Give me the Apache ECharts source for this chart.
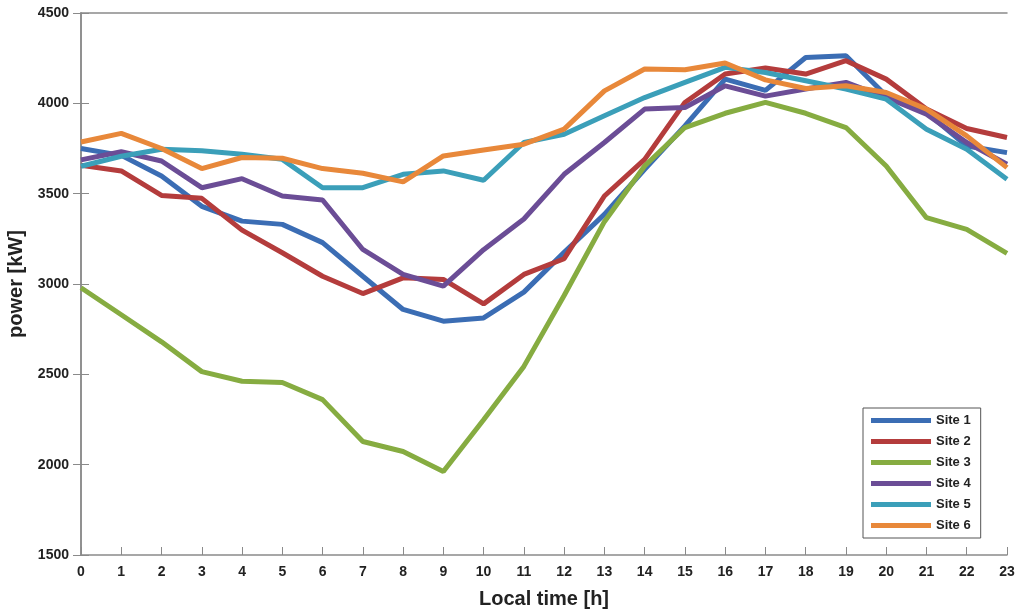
<!DOCTYPE html>
<html>
<head>
<meta charset="utf-8">
<script src="https://cdn.jsdelivr.net/npm/echarts@6/dist/echarts.min.js"></script>
<style>
  html, body { margin: 0; padding: 0; background: #fff; }
  #chart { width: 1017px; height: 611px; }
</style>
</head>
<body>
<div id="chart"></div>
<script>
// hours of the day
const hours = [0, 1, 2, 3, 4, 5, 6, 7, 8, 9, 10, 11, 12, 13, 14, 15, 16, 17, 18, 19, 20, 21, 22, 23];

// power per site [kW]
const site1 = [3750, 3712, 3598, 3430, 3348, 3330, 3229, 3043, 2859, 2794, 2812, 2955, 3175, 3385, 3635, 3875, 4134, 4072, 4254, 4263, 4042, 3950, 3764, 3727];
const site2 = [3657, 3626, 3490, 3474, 3298, 3173, 3043, 2947, 3034, 3025, 2890, 3053, 3140, 3487, 3690, 4005, 4162, 4196, 4162, 4236, 4134, 3968, 3861, 3811];
const site3 = [2979, 2830, 2680, 2515, 2462, 2455, 2360, 2128, 2073, 1962, 2249, 2544, 2936, 3345, 3653, 3866, 3945, 4005, 3945, 3866, 3653, 3367, 3302, 3170];
const site4 = [3687, 3732, 3681, 3533, 3583, 3487, 3465, 3191, 3053, 2988, 3190, 3360, 3607, 3783, 3968, 3977, 4097, 4040, 4079, 4116, 4032, 3940, 3783, 3663];
const site5 = [3652, 3707, 3746, 3737, 3718, 3690, 3533, 3533, 3607, 3626, 3574, 3783, 3829, 3931, 4032, 4116, 4199, 4171, 4125, 4079, 4023, 3857, 3746, 3580];
const site6 = [3786, 3834, 3750, 3639, 3700, 3696, 3639, 3613, 3565, 3709, 3742, 3774, 3857, 4069, 4190, 4186, 4223, 4130, 4082, 4097, 4060, 3968, 3820, 3644];

const siteNames = ['Site 1', 'Site 2', 'Site 3', 'Site 4', 'Site 5', 'Site 6'];
const siteValues = [site1, site2, site3, site4, site5, site6];
const siteColors = ['#3b6db4', '#b43c3c', '#86ac41', '#6b4d96', '#3b9fb9', '#e8883a'];

const yTicks = [1500, 2000, 2500, 3000, 3500, 4000, 4500];

const font = 'Liberation Sans, Arial, sans-serif';
const axisGray = '#8a8a8a';

const chart = echarts.init(document.getElementById('chart'));

const series = siteNames.map((name, i) => ({
    name: name,
    type: 'line',
    data: hours.map((h, j) => [h, siteValues[i][j]]),
    showSymbol: false,
    symbol: 'none',
    lineStyle: { width: 5, color: siteColors[i] },
    itemStyle: { color: siteColors[i] },
    z: 2 + i
}));

chart.setOption({
    animation: false,
    backgroundColor: '#fff',
    grid: { left: 81, right: 10, top: 13, bottom: 56, outerBoundsMode: 'none', containLabel: false },
    legend: {
        orient: 'vertical',
        left: 863,
        top: 408,
        data: siteNames,
        icon: 'rect',
        itemWidth: 60,
        itemHeight: 5,
        itemGap: 8,
        padding: [6, 10, 6, 8],
        borderColor: '#555',
        borderWidth: 1,
        backgroundColor: '#fff',
        textStyle: { fontFamily: font, fontWeight: 'bold', fontSize: 13, color: '#222' }
    },
    xAxis: [{
        type: 'value',
        min: 0,
        max: 23,
        interval: 1,
        name: 'Local time [h]',
        nameLocation: 'middle',
        nameGap: 34,
        nameTextStyle: { fontFamily: font, fontWeight: 'bold', fontSize: 20, color: '#222' },
        axisLine: { lineStyle: { color: axisGray, width: 1.5 } },
        axisTick: { inside: true, length: 8, lineStyle: { color: axisGray } },
        axisLabel: { fontFamily: font, fontWeight: 'bold', fontSize: 14, color: '#222', margin: 10 },
        splitLine: { show: false }
    }, {
        type: 'value',
        position: 'top',
        min: 0,
        max: 23,
        interval: 1,
        axisLine: { show: true, lineStyle: { color: axisGray, width: 1.5 } },
        axisTick: { show: false },
        axisLabel: { show: false },
        splitLine: { show: false }
    }],
    yAxis: [{
        type: 'value',
        min: yTicks[0],
        max: yTicks[yTicks.length - 1],
        interval: 500,
        name: 'power [kW]',
        nameLocation: 'middle',
        nameGap: 52,
        nameTextStyle: { fontFamily: font, fontWeight: 'bold', fontSize: 20, color: '#222' },
        axisLine: { show: true, lineStyle: { color: axisGray, width: 1.5 } },
        axisTick: { show: true, inside: true, length: 8, lineStyle: { color: axisGray } },
        axisLabel: { fontFamily: font, fontWeight: 'bold', fontSize: 14, color: '#222', margin: 12, formatter: v => String(v) },
        splitLine: { show: false }
    }, {
        type: 'value',
        position: 'right',
        min: yTicks[0],
        max: yTicks[yTicks.length - 1],
        interval: 500,
        axisLine: { show: true, lineStyle: { color: axisGray, width: 1.5 } },
        axisTick: { show: true, inside: true, length: 8, lineStyle: { color: axisGray } },
        axisLabel: { show: false },
        splitLine: { show: false }
    }],
    series: series
});
</script>
</body>
</html>
